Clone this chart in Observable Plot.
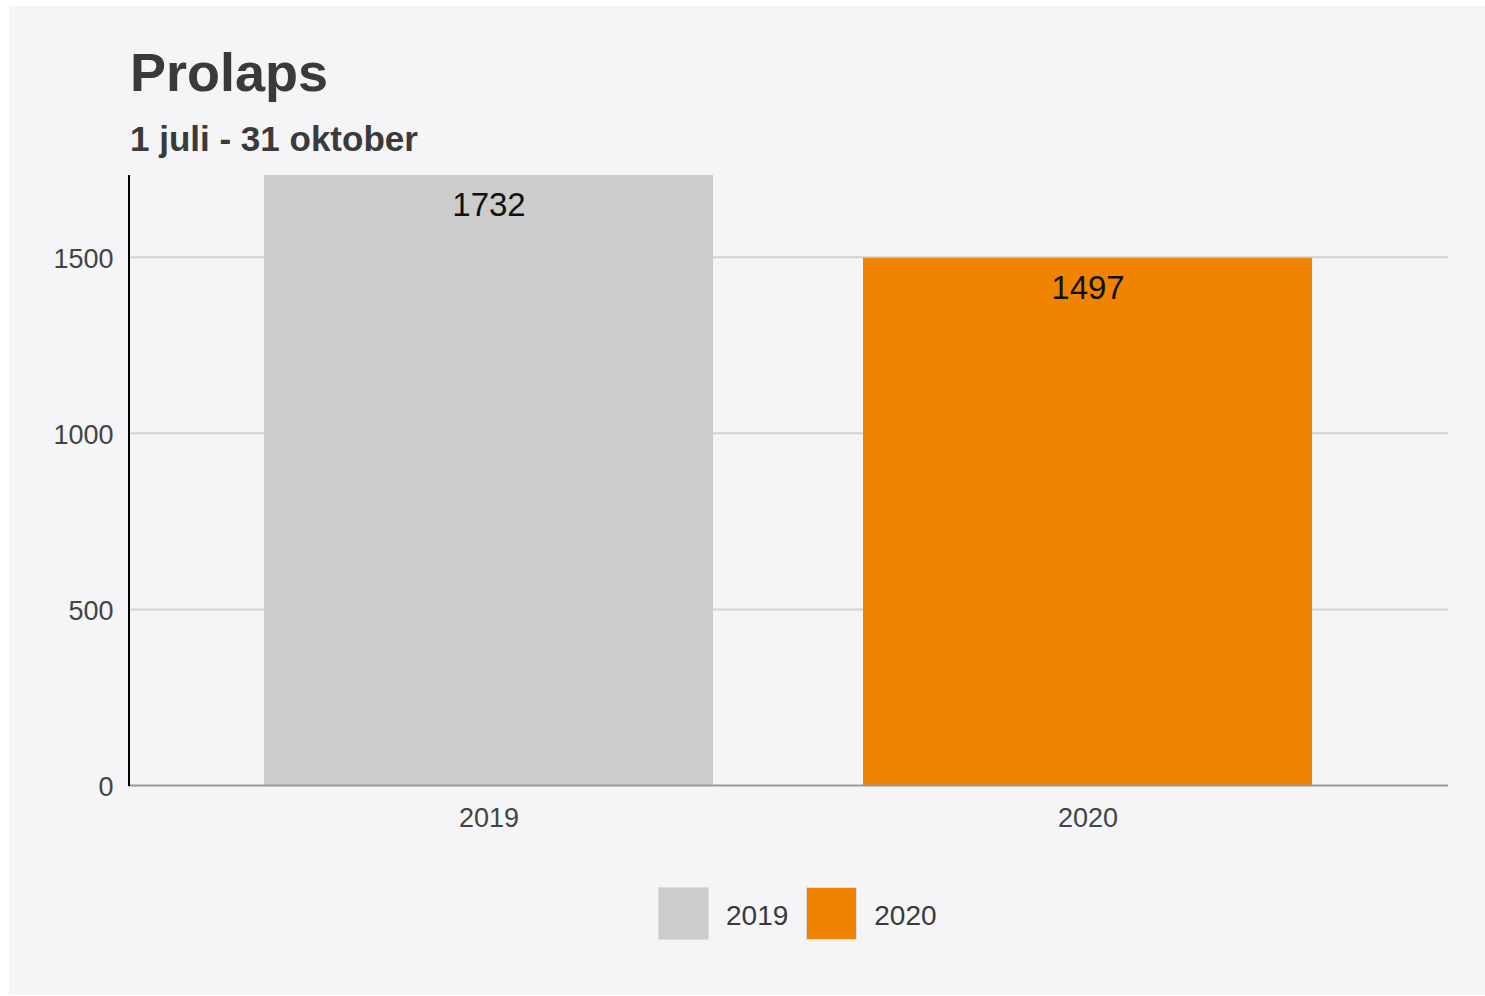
<!DOCTYPE html>
<html>
<head>
<meta charset="utf-8">
<script src="https://cdn.jsdelivr.net/npm/d3@7"></script>
<script src="https://cdn.jsdelivr.net/npm/@observablehq/plot@0.6"></script>
<style>
  html, body { margin: 0; padding: 0; background: #ffffff; }
  body { width: 1485px; height: 996px; position: relative; overflow: hidden; font-family: "Liberation Sans", Arial, sans-serif; }
  #panel { position: absolute; left: 9px; top: 6px; width: 1476px; height: 989px; background: #f5f4f7; }
  #title { position: absolute; left: 130px; top: 45px; font-size: 54px; font-weight: bold; color: #3a3a3a; line-height: 1; margin: 0; }
  #subtitle { position: absolute; left: 130px; top: 121px; font-size: 35px; font-weight: bold; color: #3a3a3a; line-height: 1; margin: 0; }
  #chart { position: absolute; left: 0; top: 160px; }
  #legend { position: absolute; left: 658px; top: 887px; display: flex; align-items: center; font-size: 28px; color: #3a3a3a; }
  .sw { width: 51px; height: 53px; border: 1px solid #dcdcdc; box-sizing: border-box; margin-right: 17px; }
  .lt { margin-right: 18px; padding-top: 4px; }
</style>
</head>
<body>
<div id="panel"></div>
<div id="title">Prolaps</div>
<div id="subtitle">1 juli - 31 oktober</div>
<div id="chart"></div>
<div id="legend"></div>
<script>
const years = ["2019", "2020"];
const values = [1732, 1497];
const colors = ["#cccccc", "#f08300"];
const yTicks = [0, 500, 1000, 1500];

const data = years.map((y, i) => ({year: y, value: values[i]}));

const plot = Plot.plot({
  width: 1485,
  height: 700,
  marginLeft: 129,
  marginRight: 37,
  marginTop: 15,
  marginBottom: 75,
  style: {background: "transparent", fontFamily: "'Liberation Sans', Arial, sans-serif", overflow: "visible"},
  x: {domain: years, paddingInner: 0.25, paddingOuter: 0.225, label: null},
  y: {domain: [0, d3.max(values)], label: null},
  color: {domain: years, range: colors},
  marks: [
    Plot.ruleY(yTicks.filter(d => d > 0), {stroke: "#d3d3d3", strokeWidth: 2}),
    Plot.barY(data, {x: "year", y: "value", fill: "year"}),
    Plot.text(data, {x: "year", y: "value", text: d => String(d.value), dy: 30, fontSize: 33, fill: "#111", lineAnchor: "middle"}),
    Plot.ruleY([0], {stroke: "#999999", strokeWidth: 2}),
    Plot.axisY({ticks: yTicks, tickSize: 0, tickPadding: 16, fontSize: 27, color: "#444", dy: 2, label: null, tickFormat: d => String(d)}),
    Plot.axisX({tickSize: 0, tickPadding: 22, fontSize: 27, color: "#444", label: null})
  ]
});

// left axis line derived from scales
const xr = plot.scale("x").range;
const yr = plot.scale("y").range;
d3.select(plot).append("line")
  .attr("x1", xr[0]).attr("x2", xr[0])
  .attr("y1", yr[0] + 1).attr("y2", yr[1])
  .attr("stroke", "#000").attr("stroke-width", 2);

document.getElementById("chart").appendChild(plot);

const legend = d3.select("#legend");
years.forEach((y, i) => {
  legend.append("div").attr("class", "sw").style("background", colors[i]);
  legend.append("div").attr("class", "lt").text(y);
});
</script>
</body>
</html>
